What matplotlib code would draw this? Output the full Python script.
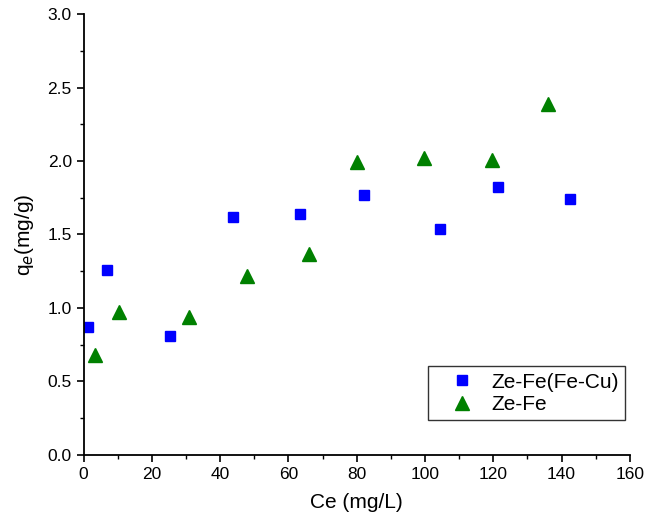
import matplotlib
matplotlib.use("Agg")
import matplotlib.pyplot as plt
from matplotlib.ticker import MultipleLocator

plt.rcParams['font.family'] = ['Liberation Sans', 'DejaVu Sans']

ce_fecu = [1.3, 6.9, 25.3, 43.8, 63.4, 82.1, 104.3, 121.4, 142.4]
qe_fecu = [0.87, 1.26, 0.81, 1.62, 1.64, 1.77, 1.54, 1.82, 1.74]
ce_fe = [3.4, 10.4, 30.8, 47.8, 66.1, 80.0, 99.7, 119.7, 135.9]
qe_fe = [0.68, 0.97, 0.94, 1.22, 1.37, 1.99, 2.02, 2.01, 2.39]

fig = plt.figure(figsize=(6.48, 5.29), dpi=100)
ax = fig.add_axes([0.129, 0.140, 0.843, 0.8335])
ax.plot(ce_fecu, qe_fecu, linestyle='none', marker='s', color='#0000ff', markersize=7.5, label='Ze-Fe(Fe-Cu)')
ax.plot(ce_fe, qe_fe, linestyle='none', marker='^', color='#008000', markersize=9.5, label='Ze-Fe')

ax.set_xlim(0, 160)
ax.set_ylim(0, 3.0)
ax.xaxis.set_major_locator(MultipleLocator(20))
ax.xaxis.set_minor_locator(MultipleLocator(10))
ax.yaxis.set_major_locator(MultipleLocator(0.5))
ax.yaxis.set_minor_locator(MultipleLocator(0.25))
ax.yaxis.set_major_formatter(matplotlib.ticker.FormatStrFormatter('%.1f'))
for s in ['top', 'right']:
    ax.spines[s].set_visible(False)
for s in ['left', 'bottom']:
    ax.spines[s].set_linewidth(1.3)
ax.tick_params(which='major', direction='out', length=5, width=1.2, labelsize=12.5)
ax.tick_params(which='minor', direction='out', length=3, width=1.0)
ax.set_xlabel('Ce (mg/L)', fontsize=15, labelpad=8)
ax.set_ylabel('q$_e$(mg/g)', fontsize=15, labelpad=8)

leg = ax.legend(loc='lower right', bbox_to_anchor=(0.992, 0.079), fontsize=15, frameon=True,
                fancybox=False, edgecolor='black', handletextpad=0.15, borderpad=0.3,
                labelspacing=0.15, handlelength=2.6, borderaxespad=0.0)
leg.get_frame().set_linewidth(1.0)

fig.savefig('out.png', dpi=100)
